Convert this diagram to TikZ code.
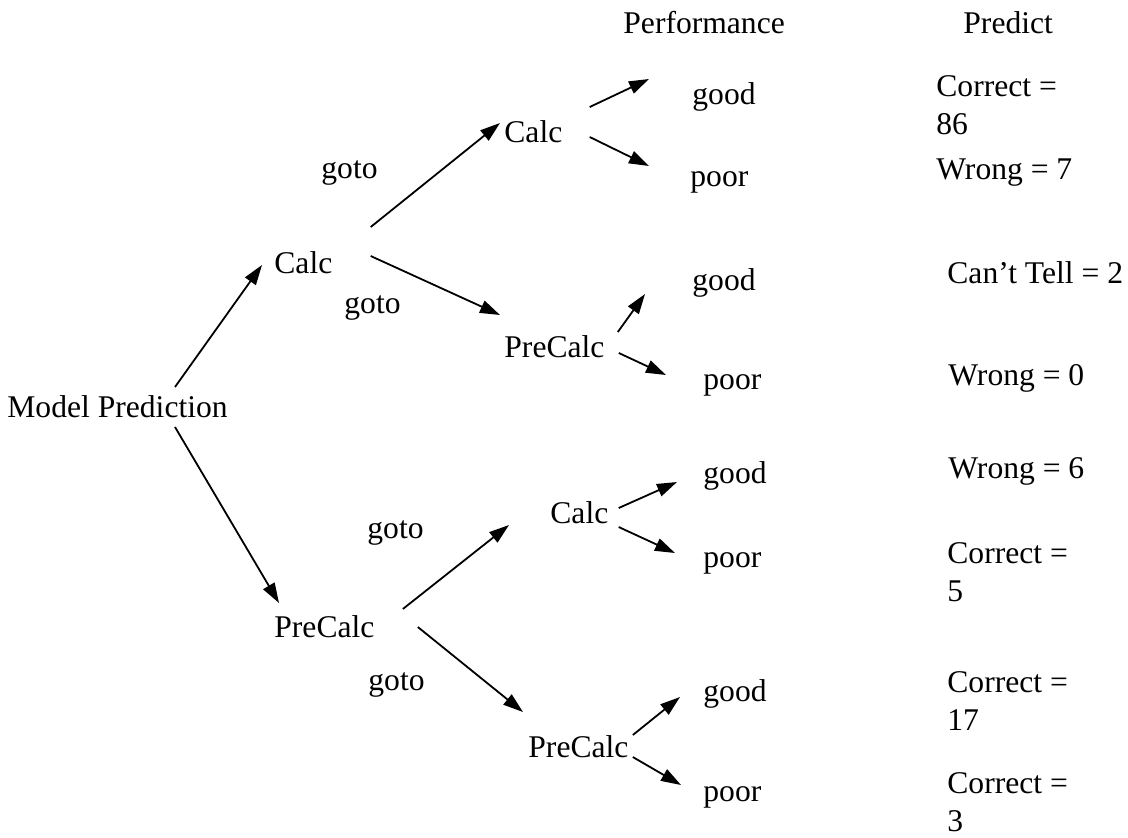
\documentclass[tikz,border=0pt]{standalone}
\usepackage{fontspec}
\setmainfont{Liberation Serif}
\newfontfamily\treefont{Liberation Serif}
\usetikzlibrary{arrows.meta}
\tikzset{lbl/.style={inner sep=0pt, anchor=base west, font=\treefont\fontsize{15.8}{19}\selectfont},
  res/.style={lbl, anchor=north west, align=left},
  arr/.style={-{Triangle[length=10pt,width=6.5pt]}, line width=.9pt}}
\begin{document}
\begin{tikzpicture}[x=0.5pt, y=-0.5pt]
\useasboundingbox (0,0) rectangle (1128,837);
\node[lbl](perf) at (623,33) {Performance};
\node[lbl](pred) at (963,33) {Predict};
\node[lbl](mp) at (7,417) {Model Prediction};
\node[lbl](calcA) at (274,273) {Calc};
\node[lbl](precA) at (274,637) {PreCalc};
\node[lbl](gotoA) at (321,178) {goto};
\node[lbl](gotoB) at (344,313) {goto};
\node[lbl](gotoC) at (367,538) {goto};
\node[lbl](gotoD) at (368,690) {goto};
\node[lbl](calcB) at (504,142) {Calc};
\node[lbl](precB) at (504,357) {PreCalc};
\node[lbl](calcC) at (550,523) {Calc};
\node[lbl](precC) at (528,757) {PreCalc};
\node[lbl](good1) at (692,104) {good};
\node[lbl](poor1) at (690,186) {poor};
\node[lbl](good2) at (692,290) {good};
\node[lbl](poor2) at (703,389) {poor};
\node[lbl](good3) at (703,483) {good};
\node[lbl](poor3) at (703,567) {poor};
\node[lbl](good4) at (703,701) {good};
\node[lbl](poor4) at (703,801) {poor};
\node[res](res1) at (936,75) {Correct =\\86};
\node[lbl](res2) at (936,179) {Wrong = 7};
\node[lbl](res3) at (947,283) {Can’t Tell = 2};
\node[lbl](res4) at (948,385) {Wrong = 0};
\node[lbl](res5) at (948,478) {Wrong = 6};
\node[res](res6) at (947,542) {Correct =\\5};
\node[res](res7) at (947,671) {Correct =\\17};
\node[res](res8) at (947,772) {Correct =\\3};
\draw[arr] ([shift={(168,-30)}]mp.base west) -- ([shift={(-12,-8)}]calcA.base west);
\draw[arr] ([shift={(168,10)}]mp.base west) -- ([shift={(5,-34)}]precA.base west);
\draw[arr] ([shift={(38,-46)}]calcA.base east) -- ([shift={(-4,-19)}]calcB.base west);
\draw[arr] ([shift={(38,-17)}]calcA.base east) -- ([shift={(-4,-42)}]precB.base west);
\draw[arr] ([shift={(28,-28)}]precA.base east) -- ([shift={(-41,2)}]calcC.base west);
\draw[arr] ([shift={(43,-10)}]precA.base east) -- ([shift={(-5,-45)}]precC.base west);
\draw[arr] ([shift={(27,-35)}]calcB.base east) -- ([shift={(-43,-25)}]good1.base west);
\draw[arr] ([shift={(27,-5)}]calcB.base east) -- ([shift={(-41,-20)}]poor1.base west);
\draw[arr] ([shift={(13,-25)}]precB.base east) -- ([shift={(-47,4)}]good2.base west);
\draw[arr] ([shift={(14,-4)}]precB.base east) -- ([shift={(-37,-14)}]poor2.base west);
\draw[arr] ([shift={(10,-15)}]calcC.base east) -- ([shift={(-26,-1)}]good3.base west);
\draw[arr] ([shift={(10,4)}]calcC.base east) -- ([shift={(-28,-14)}]poor3.base west);
\draw[arr] ([shift={(4,-22)}]precC.base east) -- ([shift={(-23,-4)}]good4.base west);
\draw[arr] ([shift={(4,0)}]precC.base east) -- ([shift={(-22,-16)}]poor4.base west);
\end{tikzpicture}
\end{document}
